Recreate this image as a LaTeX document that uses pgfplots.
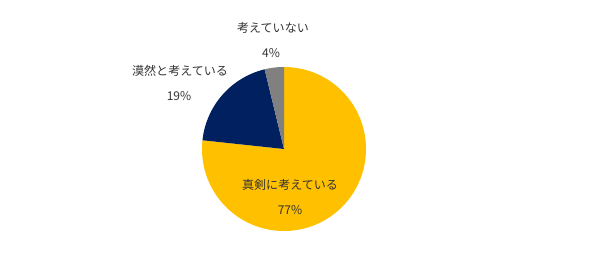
\documentclass[border=0pt]{standalone}
\usepackage{pgfplots}
\usepackage{pgfplotstable}
\pgfplotsset{compat=1.18}
\usepackage{fontspec}
\setmainfont{Noto Sans CJK JP}
\definecolor{pieyellow}{HTML}{FFC000}
\definecolor{pienavy}{HTML}{002060}
\definecolor{piegray}{HTML}{808080}
\definecolor{txt}{HTML}{333333}
\pgfplotstableread{
label share
gray 3.8
navy 19.5
yellow 76.7
}\piedata
\begin{document}
\begin{tikzpicture}
\pgfplotstablegetelem{0}{share}\of\piedata \pgfmathsetmacro\sG{\pgfplotsretval}
\pgfplotstablegetelem{1}{share}\of\piedata \pgfmathsetmacro\sN{\pgfplotsretval}
\pgfplotstablegetelem{2}{share}\of\piedata \pgfmathsetmacro\sY{\pgfplotsretval}
\pgfmathsetmacro\aA{90}
\pgfmathsetmacro\aB{\aA+3.6*\sG}
\pgfmathsetmacro\aC{\aB+3.6*\sN}
\pgfmathsetmacro\aD{\aC+3.6*\sY}
\begin{axis}[name=ax, width=600bp, height=261bp, scale only axis,
  xmin=0, xmax=600, ymin=0, ymax=261, hide axis, clip=false]
\addplot[fill=pieyellow, draw=none, domain=\aC:\aD, samples=200]
  ({284+82*cos(x)},{112+82*sin(x)}) -- (axis cs:284,112) -- cycle;
\addplot[fill=pienavy, draw=none, domain=\aB:\aC, samples=60]
  ({284+82*cos(x)},{112+82*sin(x)}) -- (axis cs:284,112) -- cycle;
\addplot[fill=piegray, draw=none, domain=\aA:\aB, samples=20]
  ({284+82*cos(x)},{112+82*sin(x)}) -- (axis cs:284,112) -- cycle;
\begin{scope}[every node/.style={font=\fontsize{12.1}{14}\selectfont, text=txt, inner sep=0pt}]
\node at (axis cs:273,233) {考えていない};
\node at (axis cs:271,208) {4\%};
\node at (axis cs:180,190) {漠然と考えている};
\node at (axis cs:179,165) {19\%};
\node at (axis cs:290,76) {真剣に考えている};
\node at (axis cs:290,51) {77\%};
\end{scope}
\end{axis}
\pgfresetboundingbox
\path[use as bounding box] (ax.south west) rectangle (ax.north east);
\end{tikzpicture}
\end{document}
